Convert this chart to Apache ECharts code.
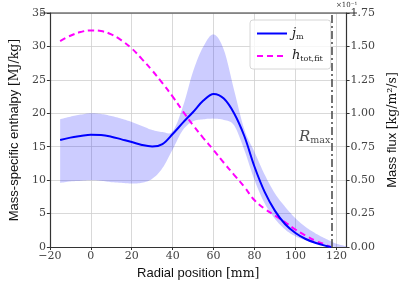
<!DOCTYPE html>
<html><head><meta charset="utf-8">
<script src="https://cdn.jsdelivr.net/npm/echarts@6/dist/echarts.min.js"></script>
<style>html,body{margin:0;padding:0;background:#fff}#c{width:407px;height:287px}</style>
</head><body><div id="c"></div>
<script>
// Radial positions [mm]
const xJm = [-15,-10,-5,0,5,10,15,20,25,30,35,40,45,50,55,60,65,70,75,80,85,90,95,100,105,110,115,117.5];
// Mass flux j_m [x10^-1 kg/m^2/s] (right axis)
const jm = [0.800,0.818,0.830,0.840,0.838,0.825,0.805,0.785,0.763,0.752,0.770,0.845,0.930,1.010,1.095,1.145,1.110,1.000,0.830,0.600,0.410,0.270,0.170,0.105,0.060,0.030,0.008,0];
// h_tot,fit [MJ/kg] (left axis)
const xH = [-15,-10,-5,0,5,10,15,20,25,30,35,40,45,50,55,60,65,70,75,80,85,90,95,100,105,110,115,117];
const hTot = [30.8,31.6,32.15,32.4,32.3,31.8,30.9,29.7,28.1,26.4,24.5,22.5,20.3,18.2,16.3,14.5,12.6,10.8,9.0,7.0,5.7,4.7,3.7,2.6,1.7,0.9,0.3,0];
// Uncertainty band of j_m [x10^-1 kg/m^2/s]
const xBand = [-15,-10,-5,0,5,10,15,20,25,30,35,40,45,50,55,60,65,70,75,80,85,90,95,100,105,110,115,120,125];
const bandUpper = [0.955,0.975,0.99,1.00,0.995,0.98,0.96,0.935,0.905,0.875,0.86,0.865,1.05,1.315,1.50,1.59,1.475,1.175,0.88,0.71,0.54,0.40,0.30,0.215,0.15,0.10,0.06,0.025,0.005];
const bandLower = [0.48,0.49,0.495,0.50,0.495,0.485,0.48,0.475,0.48,0.51,0.59,0.73,0.875,0.94,0.955,0.96,0.95,0.91,0.725,0.50,0.325,0.21,0.13,0.08,0.05,0.025,0.01,0,0];
const rMax = 117.5;
const rMaxLabelY = 16.4;
const xTicks = {min:-20, max:125, interval:20};
const leftTicks = {min:0, max:35, interval:5};
const rightTicks = {min:0, max:1.75, interval:0.25};

const serif = 'DejaVu Serif';
const sans = 'Liberation Sans';
const fmtNum = v => (v < 0 ? '\u2212' + Math.abs(v) : String(v));

// Catmull-Rom sampling in pixel space (rendering only)
function smoothPath(pts, n) {
  const out = [];
  for (let i = 0; i < pts.length - 1; i++) {
    const p0 = pts[Math.max(0, i-1)], p1 = pts[i], p2 = pts[i+1], p3 = pts[Math.min(pts.length-1, i+2)];
    const c1 = [p1[0] + (p2[0]-p0[0])/6, p1[1] + (p2[1]-p0[1])/6];
    const c2 = [p2[0] - (p3[0]-p1[0])/6, p2[1] - (p3[1]-p1[1])/6];
    for (let k = 0; k < n; k++) {
      const t = k/n, u = 1-t;
      out.push([
        u*u*u*p1[0] + 3*u*u*t*c1[0] + 3*u*t*t*c2[0] + t*t*t*p2[0],
        u*u*u*p1[1] + 3*u*u*t*c1[1] + 3*u*t*t*c2[1] + t*t*t*p2[1]
      ]);
    }
  }
  out.push(pts[pts.length-1]);
  return out;
}

const chart = echarts.init(document.getElementById('c'), null, {renderer:'canvas'});

const axisCommon = {
  axisLine:{show:true, onZero:false, lineStyle:{color:'#333', width:1.2}},
  axisTick:{show:true, length:3, lineStyle:{color:'#333'}},
};
const nameRich = {rich:{a:{fontFamily:sans, fontSize:13, color:'#111'}, b:{fontFamily:serif, fontSize:12.5, color:'#111'}}};

chart.setOption({
  animation:false,
  grid:{left:40, right:50, top:13, bottom:40, show:false},
  legend:{
    left:250, top:20, orient:'vertical', itemWidth:30, itemHeight:10, itemGap:9,
    padding:[7,8,6,6], backgroundColor:'rgba(255,255,255,0.8)', borderColor:'#d6d6d6', borderWidth:1, borderRadius:3,
    data:['jm','htot'],
    itemStyle:{opacity:0},
    formatter: n => n==='jm' ? '{i|j}{s|m}' : '{i|h}{s|tot,fit}',
    textStyle:{ rich:{ i:{fontFamily:serif, fontStyle:'italic', fontSize:13, color:'#222'}, s:{fontFamily:serif, fontSize:8, color:'#222', padding:[6,0,0,0]} } }
  },
  xAxis:Object.assign({
    type:'value', min:xTicks.min, max:xTicks.max, interval:xTicks.interval,
    name:'{a|Radial position }{b|[mm]}', nameLocation:'middle', nameGap:20, nameTextStyle:nameRich,
    axisLabel:{fontFamily:serif, fontSize:11, color:'#444', margin:4, formatter:fmtNum, showMaxLabel:false},
    splitLine:{show:true, lineStyle:{color:'#cfcfcf', width:0.8}}
  }, axisCommon),
  yAxis:[Object.assign({
    type:'value', min:leftTicks.min, max:leftTicks.max, interval:leftTicks.interval, position:'left',
    name:'{a|Mass-specific enthalpy }{b|[MJ/kg]}', nameLocation:'middle', nameGap:22, nameRotate:90, nameTextStyle:nameRich,
    axisLabel:{fontFamily:serif, fontSize:11, color:'#444', margin:4},
    splitLine:{show:true, lineStyle:{color:'#cfcfcf', width:0.8}}
  }, axisCommon), Object.assign({
    type:'value', min:rightTicks.min, max:rightTicks.max, interval:rightTicks.interval, position:'right',
    name:'{a|Mass flux }{b|[kg/m\u00b2/s]}', nameLocation:'middle', nameGap:30, nameRotate:90, nameTextStyle:nameRich,
    axisLabel:{fontFamily:serif, fontSize:11, color:'#444', margin:4, formatter: v => v.toFixed(2)},
    splitLine:{show:false}
  }, axisCommon)],
  graphic:[
    {type:'line', shape:{x1:40, y1:13, x2:357, y2:13}, style:{stroke:'#333', lineWidth:1.2}, z:10},
    {type:'text', left:336, top:2, style:{text:'\u00d710\u207b\u00b9', font:'7px DejaVu Serif', fill:'#333'}}
  ],
  series:[
    {
      type:'custom', yAxisIndex:1, silent:true, z:1,
      data:[0],
      renderItem:(params, api) => {
        const up = smoothPath(xBand.map((x,i)=>api.coord([x, bandUpper[i]])), 8);
        const lo = smoothPath(xBand.map((x,i)=>api.coord([x, bandLower[i]])), 8).reverse();
        return {
          type:'polygon',
          shape:{points: up.concat(lo)},
          style:{fill:'rgba(0,0,255,0.2)', stroke:null}
        };
      }
    },
    {
      name:'jm', type:'line', yAxisIndex:1, smooth:0.35, showSymbol:false, symbol:'none', z:4,
      data: xJm.map((x,i)=>[x, jm[i]]),
      lineStyle:{color:'#0000ff', width:2}, itemStyle:{color:'#0000ff'}
    },
    {
      name:'htot', type:'line', yAxisIndex:0, smooth:0.4, showSymbol:false, symbol:'none', z:3,
      data: xH.map((x,i)=>[x, hTot[i]]),
      lineStyle:{color:'#ff00ff', width:2, type:[6,4]}, itemStyle:{color:'#ff00ff'},
      markLine:{
        silent:true, symbol:'none', label:{show:false},
        lineStyle:{color:'#444', width:1.5, type:[8,3,2,3]},
        data:[{xAxis:rMax}]
      }
    },
    {
      type:'scatter', yAxisIndex:0, symbolSize:0, silent:true,
      data:[[rMax, rMaxLabelY]],
      label:{show:true, position:'left', distance:1, formatter:'{i|R}{s|max}',
        rich:{i:{fontFamily:serif, fontStyle:'italic', fontSize:15, color:'#222'}, s:{fontFamily:serif, fontSize:9.5, color:'#222', padding:[7,0,0,0]}}}
    }
  ]
});
</script></body></html>
